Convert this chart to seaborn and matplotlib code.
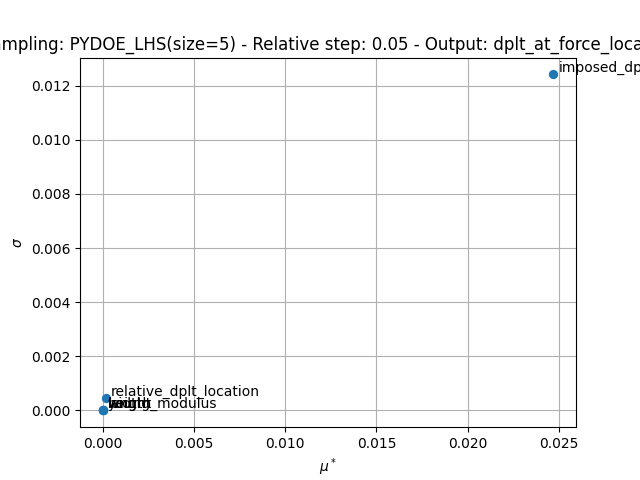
import matplotlib
matplotlib.use("Agg")
import matplotlib.pyplot as plt
import seaborn as sns
import pandas as pd

# Morris screening results
names = ["length", "width", "height", "young_modulus",
         "relative_dplt_location", "imposed_dplt"]
mu_star = [0.0, 0.0, 0.0, 0.0, 0.00019, 0.02469]
sigma = [0.0, 0.0, 0.0, 0.0, 0.00044, 0.01242]

df = pd.DataFrame({"name": names, "mu_star": mu_star, "sigma": sigma})

fig, ax = plt.subplots(figsize=(6.4, 4.8), dpi=100)
sns.scatterplot(data=df, x="mu_star", y="sigma", ax=ax, s=45,
                color="#1f77b4", linewidth=0, zorder=3)
for _, row in df.iterrows():
    ax.annotate(row["name"], (row["mu_star"], row["sigma"]),
                xytext=(3.5, 2), textcoords="offset points", fontsize=10)

ax.set_xlabel(r"$\mu^*$")
ax.set_ylabel(r"$\sigma$")
ax.set_title("Sampling: PYDOE_LHS(size=5) - Relative step: 0.05 - "
             "Output: dplt_at_force_location")
ax.grid(True)
ax.set_axisbelow(True)

fig.savefig("out.png", dpi=100)
